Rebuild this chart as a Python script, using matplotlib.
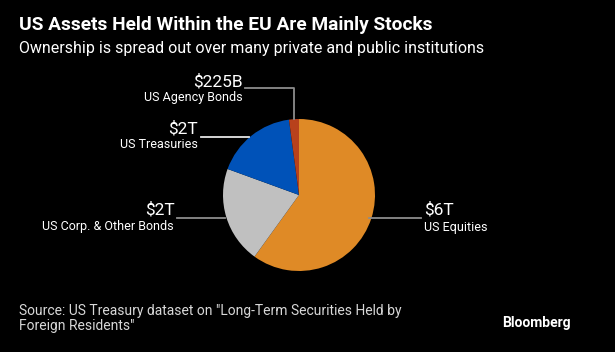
import numpy as np
import matplotlib.pyplot as plt
from matplotlib.lines import Line2D

# values in trillions of USD, clockwise from 12 o'clock
categories = ['US Equities', 'US Corp. & Other Bonds', 'US Treasuries', 'US Agency Bonds']
values = [6.4, 2.2, 1.85, 0.225]
value_labels = ['$6T', '$2T', '$2T', '$225B']
colors = ['#df8a26', '#c0c0c0', '#0052b8', '#b8411c']

W, H = 615, 352
fig = plt.figure(figsize=(W / 100, H / 100), dpi=100, facecolor='black')
plt.rcParams['font.family'] = ['Roboto', 'DejaVu Sans']


def px(x, y):
    # pixel coords (top-left origin) -> figure fraction
    return x / W, 1 - y / H


cx, cy, r = 299, 195, 76
ax = fig.add_axes([(cx - r) / W, (H - cy - r) / H, 2 * r / W, 2 * r / H])
ax.set_facecolor('black')
wedges, _ = ax.pie(values, colors=colors, startangle=90, counterclock=False,
                   radius=1, wedgeprops=dict(linewidth=0))
ax.set_xlim(-1, 1)
ax.set_ylim(-1, 1)
ax.set_aspect('equal')
ax.axis('off')

fig.text(*px(19, 30), 'US Assets Held Within the EU Are Mainly Stocks',
         color='white', fontsize=13.8, fontweight='bold', va='baseline')
fig.text(*px(19, 53), 'Ownership is spread out over many private and public institutions',
         color='white', fontsize=11.5, va='baseline')
fig.text(*px(19, 315), 'Source: US Treasury dataset on "Long-Term Securities Held by',
         color='#d8d8d8', fontsize=10, va='baseline')
fig.text(*px(19, 330), 'Foreign Residents"',
         color='#d8d8d8', fontsize=10, va='baseline')
fig.text(*px(502, 327), 'Bloomberg', color='white', fontsize=10,
         fontweight='bold', va='baseline')


def edge_point(w, frac=0.5):
    ang = np.deg2rad(w.theta1 + (w.theta2 - w.theta1) * frac)
    p = ax.transData.transform((np.cos(ang), np.sin(ang)))
    return p[0], H - p[1]


def line(xs, ys, color):
    fig.add_artist(Line2D([x / W for x in xs], [1 - y / H for y in ys],
                          color=color, lw=1.3, transform=fig.transFigure))


big = dict(color='white', fontsize=12.5, va='baseline')
small = dict(color='white', fontsize=9, va='baseline')

# equities (right)
ex, ey = edge_point(wedges[0])
line([ex - 2, 421], [218, 218], '#8c8c8c')
fig.text(*px(424, 215), value_labels[0], ha='left', **big)
fig.text(*px(424, 231), categories[0], ha='left', **small)

# corp bonds (left)
line([177, 225], [218, 218], '#8c8c8c')
fig.text(*px(175, 214), value_labels[1], ha='right', **big)
fig.text(*px(174, 230), categories[1], ha='right', **small)

# treasuries
line([201, 249], [137, 137], '#e6e6e6')
fig.text(*px(198, 133), value_labels[2], ha='right', **big)
fig.text(*px(198, 148), categories[2], ha='right', **small)

# agency bonds
ax_, ay_ = edge_point(wedges[3])
line([245, ax_, ax_], [88, 88, 119], '#8c8c8c')
fig.text(*px(243, 86), value_labels[3], ha='right', **big)
fig.text(*px(243, 101), categories[3], ha='right', **small)

fig.savefig('out.png', dpi=100, facecolor='black')
